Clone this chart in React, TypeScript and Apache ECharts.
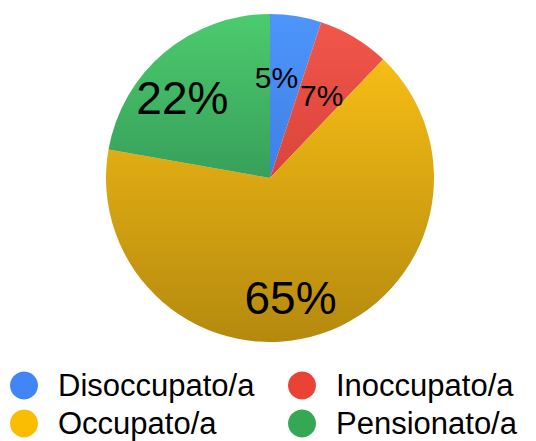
import React, { useEffect, useRef } from "react";
import * as echarts from "echarts";

const categories = ["Disoccupato/a", "Inoccupato/a", "Occupato/a", "Pensionato/a"];
const values = [5, 7, 65, 22];
const baseColors = ["#4285F4", "#EA4335", "#FBBC04", "#34A853"];
const topColors = ["#4d95fb", "#f2564a", "#f6bd15", "#4ccb6e"];
const bottomColors = ["#3f80e5", "#d9443a", "#b4890e", "#37a05a"];
const labelSizes = [30, 30, 46, 46];
const labelOffsets: [number, number][] = [[-7, -17], [8, -10], [-6, 39], [-33, -15]];

export default function App() {
  const ref = useRef<HTMLDivElement>(null);
  useEffect(() => {
    if (!ref.current) return;
    const chart = echarts.init(ref.current, undefined, { renderer: "svg" });
    const data = categories.map((name, i) => ({
      name,
      value: values[i],
      itemStyle: {
        color: new echarts.graphic.LinearGradient(0, 0, 0, 1, [
          { offset: 0, color: topColors[i] },
          { offset: 1, color: bottomColors[i] },
        ]),
      },
      label: { fontSize: labelSizes[i], offset: labelOffsets[i] },
    }));
    const legendCommon = {
      orient: "vertical" as const,
      top: 370,
      padding: 0,
      itemGap: 7,
      itemWidth: 28,
      itemHeight: 28,
      icon: "circle",
      selectedMode: false,
      textStyle: {
        fontSize: 31,
        lineHeight: 30,
        color: "#000",
        fontFamily: "Liberation Sans, Arial, sans-serif",
        padding: [0, 0, 0, 15],
      },
    };
    chart.setOption({
      animation: false,
      backgroundColor: "#fff",
      legend: [
        {
          ...legendCommon,
          left: 10,
          data: [
            { name: categories[0], itemStyle: { color: baseColors[0] } },
            { name: categories[2], itemStyle: { color: baseColors[2] } },
          ],
        },
        {
          ...legendCommon,
          left: 288,
          data: [
            { name: categories[1], itemStyle: { color: baseColors[1] } },
            { name: categories[3], itemStyle: { color: baseColors[3] } },
          ],
        },
      ],
      series: [
        {
          type: "pie",
          center: [270, 178],
          radius: 164,
          startAngle: 90,
          clockwise: true,
          data,
          label: {
            show: true,
            position: "inside",
            formatter: "{c}%",
            color: "#000",
            fontFamily: "Liberation Sans, Arial, sans-serif",
          },
          labelLine: { show: false },
          emphasis: { disabled: true },
        },
      ],
    });
    return () => chart.dispose();
  }, []);
  return (
    <div
      ref={ref}
      style={{ position: "absolute", left: 0, top: 0, width: 536, height: 441 }}
    />
  );
}
